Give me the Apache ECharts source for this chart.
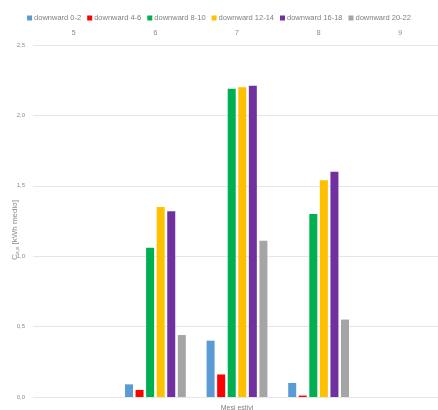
<!DOCTYPE html>
<html>
<head>
<meta charset="utf-8">
<script src="https://cdn.jsdelivr.net/npm/echarts@6/dist/echarts.min.js"></script>
<style>
  html, body { margin: 0; padding: 0; background: #fff; }
  #chart { width: 438px; height: 410px; }
</style>
</head>
<body>
<div id="chart"></div>
<script>
// Summer months (category axis) and the six downward time bands
const months = ['5', '6', '7', '8', '9'];
const seriesNames = ['downward 0-2', 'downward 4-6', 'downward 8-10', 'downward 12-14', 'downward 16-18', 'downward 20-22'];
const seriesColors = ['#5b9bd5', '#ff0000', '#00b050', '#ffc000', '#7030a0', '#a5a5a5'];

// Average energy per month [kWh]
const down0_2   = [null, 0.09, 0.40, 0.10, null];
const down4_6   = [null, 0.05, 0.16, 0.01, null];
const down8_10  = [null, 1.06, 2.19, 1.30, null];
const down12_14 = [null, 1.35, 2.20, 1.54, null];
const down16_18 = [null, 1.32, 2.21, 1.60, null];
const down20_22 = [null, 0.44, 1.11, 0.55, null];

const seriesData = [down0_2, down4_6, down8_10, down12_14, down16_18, down20_22];

const chart = echarts.init(document.getElementById('chart'));

chart.setOption({
  animation: false,
  backgroundColor: '#ffffff',
  textStyle: { fontFamily: 'Liberation Sans Narrow, Liberation Sans, sans-serif' },
  legend: {
    top: 9,
    left: 'center',
    itemWidth: 5,
    itemHeight: 5,
    itemGap: 6,
    icon: 'rect',
    textStyle: { fontSize: 7.5, color: '#7f7f7f', padding: [0, 0, 0, -3] },
    data: seriesNames
  },
  grid: { left: 33, right: -3, top: 45, bottom: 13, outerBoundsMode: 'none', containLabel: false },
  xAxis: [
    {
      type: 'category',
      data: months,
      position: 'top',
      axisLine: { show: false },
      axisTick: { show: false },
      axisLabel: { fontSize: 7, color: '#8c8c8c', margin: 8 }
    },
    {
      type: 'category',
      data: months,
      position: 'bottom',
      name: 'Mesi estivi',
      nameLocation: 'middle',
      nameGap: 8,
      nameMoveOverlap: false,
      nameTextStyle: { fontSize: 7, color: '#7f7f7f' },
      axisLine: { show: false },
      axisTick: { show: false },
      axisLabel: { show: false }
    }
  ],
  yAxis: {
    type: 'value',
    min: 0,
    max: 2.5,
    interval: 0.5,
    name: '{c|C}{s|s,e}{c| [kWh medio]}',
    nameLocation: 'middle',
    nameGap: 13,
    nameMoveOverlap: false,
    nameTextStyle: {
      padding: [0, 0, 0, -18],
      rich: {
        c: { fontSize: 8, color: '#8c8c8c', lineHeight: 10 },
        s: { fontSize: 5.5, color: '#8c8c8c', lineHeight: 10, verticalAlign: 'bottom' }
      }
    },
    axisLine: { show: false },
    axisTick: { show: false },
    axisLabel: {
      fontSize: 6,
      color: '#8c8c8c',
      margin: 8,
      formatter: v => v.toFixed(1).replace('.', ',')
    },
    splitLine: { lineStyle: { color: '#e6e6e6', width: 1 } }
  },
  series: seriesData.map((d, i) => ({
    name: seriesNames[i],
    type: 'bar',
    xAxisIndex: 0,
    data: d,
    barWidth: 8,
    barGap: '32%',
    itemStyle: { color: seriesColors[i] }
  }))
});
</script>
</body>
</html>
